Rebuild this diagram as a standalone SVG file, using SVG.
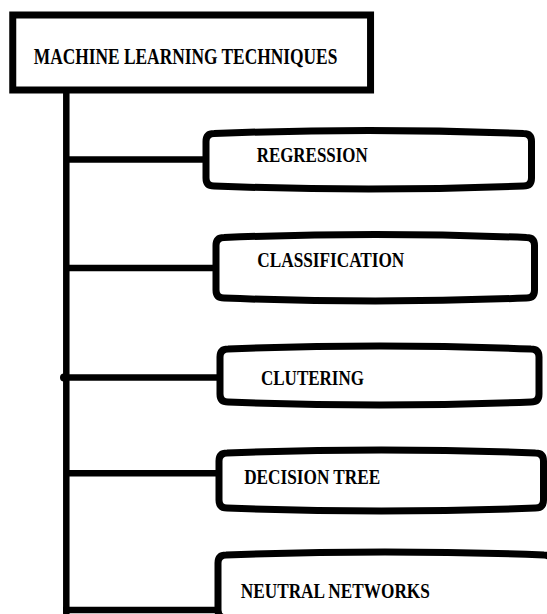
<svg xmlns="http://www.w3.org/2000/svg" width="547" height="614" viewBox="0 0 547 614">
<style>
.box{fill:#fff;stroke:#000;stroke-width:7;stroke-linejoin:round}
.conn{stroke:#000;stroke-width:6.5;fill:none}
.lbl{font-family:"Liberation Serif","Times New Roman",serif;font-weight:bold;font-size:22px;fill:#000}
</style>
<rect width="547" height="614" fill="#fff"/>
<g id="connectors">
<line class="conn" x1="66.3" y1="90" x2="66.3" y2="614"/>
<line class="conn" x1="66" y1="159.5" x2="206" y2="159.5"/>
<line class="conn" x1="66" y1="268" x2="216" y2="268"/>
<line class="conn" x1="64" y1="377.5" x2="220" y2="377.5"/>
<circle cx="64" cy="377.5" r="4"/>
<circle cx="221" cy="377.5" r="4"/>
<line class="conn" x1="66" y1="473.3" x2="219" y2="473.3"/>
<circle cx="220" cy="473.3" r="4"/>
<line class="conn" x1="63" y1="610" x2="218" y2="610"/>
</g>
<g id="root">
<rect x="12.75" y="15" width="357.8" height="75" fill="#fff" stroke="#000" stroke-width="7"/>
<text class="lbl" x="33.8" y="63.8" style="font-size:24px" textLength="303.5" lengthAdjust="spacingAndGlyphs">MACHINE LEARNING TECHNIQUES</text>
</g>
<g id="regression">
<path class="box" d="M206,141.5 Q206,133.5 214,133.5 Q368.75,127.5 523.5,133.5 Q531.5,133.5 531.5,141.5 L531.5,178 Q531.5,186 523.5,186 Q368.75,192 214,186 Q206,186 206,178 Z"/>
<text class="lbl" x="256.7" y="162.3" textLength="111" lengthAdjust="spacingAndGlyphs">REGRESSION</text>
</g>
<g id="classification">
<path class="box" d="M216,245.5 Q216,237.5 224,237.5 Q375.25,231.5 526.5,237.5 Q534.5,237.5 534.5,245.5 L534.5,290 Q534.5,298 526.5,298 Q375.25,304 224,298 Q216,298 216,290 Z"/>
<text class="lbl" x="257.3" y="267.3" textLength="147" lengthAdjust="spacingAndGlyphs">CLASSIFICATION</text>
</g>
<g id="clustering">
<path class="box" d="M220,357 Q220,349 228,349 Q379.5,343 531,349 Q539,349 539,357 L539,394 Q539,402 531,402 Q379.5,408 228,402 Q220,402 220,394 Z"/>
<text class="lbl" x="261" y="384.8" textLength="103" lengthAdjust="spacingAndGlyphs">CLUTERING</text>
</g>
<g id="decision-tree">
<path class="box" d="M219,461 Q219,453 227,453 Q381.25,447 535.5,453 Q543.5,453 543.5,461 L543.5,500 Q543.5,508 535.5,508 Q381.25,514 227,508 Q219,508 219,500 Z"/>
<text class="lbl" x="244.2" y="483.8" textLength="136" lengthAdjust="spacingAndGlyphs">DECISION TREE</text>
</g>
<g id="neural-networks">
<path class="box" d="M218,563 Q218,555 226,555 Q385,549 544,555 Q552,555 552,563 L552,610 Q552,618 544,618 Q385,624 226,618 Q218,618 218,610 Z"/>
<text class="lbl" x="240.8" y="597.6" textLength="189" lengthAdjust="spacingAndGlyphs">NEUTRAL NETWORKS</text>
</g>
</svg>
